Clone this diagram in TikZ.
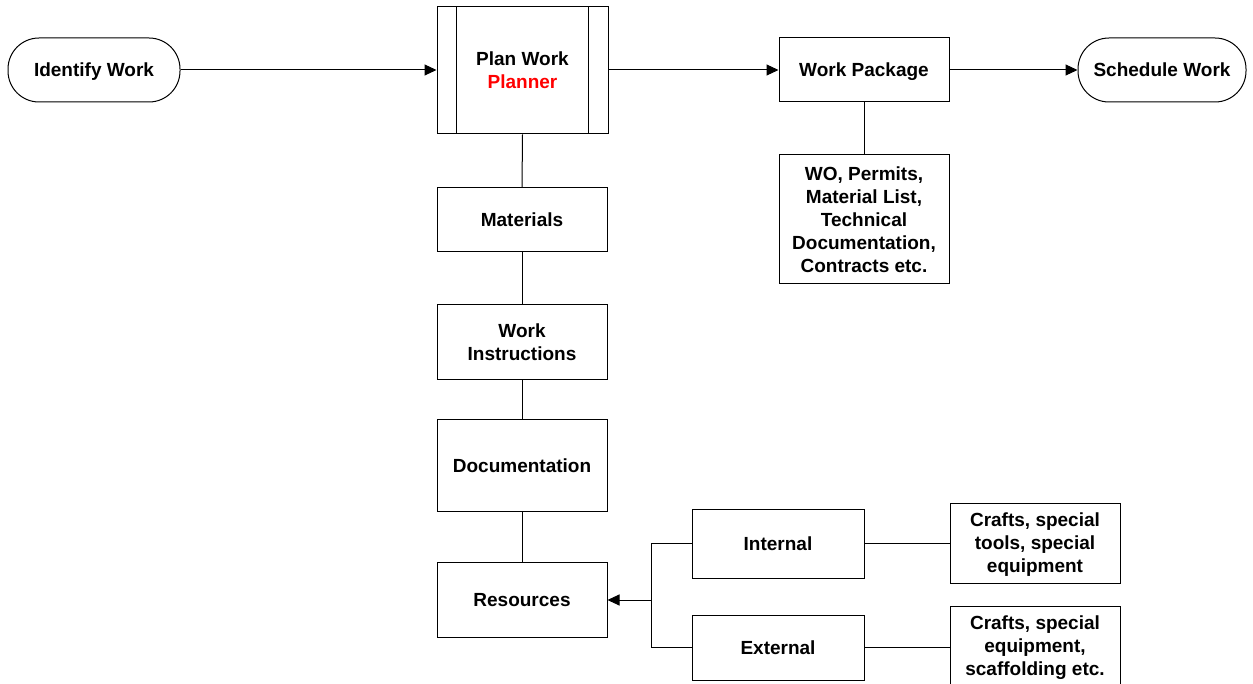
\documentclass[tikz,border=0pt]{standalone}
\usepackage{fontspec}
\setmainfont{Liberation Sans}
\usetikzlibrary{calc,arrows.meta}
\begin{document}
\begin{tikzpicture}[x=1pt,y=-1pt,
  every node/.style={font=\fontsize{19}{23}\selectfont\bfseries, align=center, inner sep=0pt, text depth=0pt},
  box/.style={draw, line width=1pt, rectangle},
  term/.style={draw, line width=1pt, rectangle, rounded corners=31pt},
  conn/.style={line width=1pt},
  arr/.style={line width=1pt, -{Triangle[length=12pt,width=11pt]}}]
\useasboundingbox (0,0) rectangle (1253,684);
\node[term, minimum width=172pt, minimum height=64pt] (identify) at (94,70) {Identify Work};
\node[box, minimum width=171pt, minimum height=127pt] (plan) at (522.5,70.5) {Plan Work\\\textcolor{red}{Planner}};
\draw[conn] ($(plan.north west)+(20,0)$) -- ($(plan.south west)+(20,0)$);
\draw[conn] ($(plan.north east)+(-20,0)$) -- ($(plan.south east)+(-20,0)$);
\node[box, minimum width=170pt, minimum height=64pt] (wp) at (864,70) {Work Package};
\node[term, minimum width=168pt, minimum height=64pt] (sched) at (1162,70) {Schedule Work};
\node[box, minimum width=170pt, minimum height=129pt] (wo) at (864,219.5) {WO, Permits,\\Material List,\\Technical\\Documentation,\\Contracts etc.};
\node[box, minimum width=170pt, minimum height=64pt] (mat) at (522,220) {Materials};
\node[box, minimum width=170pt, minimum height=75pt] (wi) at (522,342.5) {Work\\Instructions};
\node[box, minimum width=170pt, minimum height=91pt] (doc) at (522,465.5) {Documentation};
\node[box, minimum width=170pt, minimum height=75pt] (res) at (522,599.5) {Resources};
\node[box, minimum width=172pt, minimum height=69pt] (int) at (778,543.5) {Internal};
\node[box, minimum width=172pt, minimum height=65pt] (ext) at (778,647.5) {External};
\node[box, minimum width=170pt, minimum height=80pt] (c1) at (1035,543) {Crafts, special\\tools, special\\equipment};
\node[box, minimum width=170pt, minimum height=80pt] (c2) at (1035,646) {Crafts, special\\equipment,\\scaffolding etc.};
\coordinate (jt) at (651,543.5);
\coordinate (j) at (651,600);
\draw[arr] (identify.east) -- (plan.west |- identify.east);
\draw[arr] (plan.east |- wp.west) -- (wp.west);
\draw[arr] (wp.east) -- (sched.west);
\draw[conn] (wp.south) -- (wo.north);
\draw[conn] (plan.south) -- (mat.north);
\draw[conn] (mat.south) -- (wi.north);
\draw[conn] (wi.south) -- (doc.north);
\draw[conn] (doc.south) -- (res.north);
\draw[conn] (int.west) -- (jt) |- (ext.west);
\draw[arr] (j) -- (res.east |- j);
\draw[conn] (int.east) -- (c1.west |- int.east);
\draw[conn] (ext.east) -- (c2.west |- ext.east);
\end{tikzpicture}
\end{document}
